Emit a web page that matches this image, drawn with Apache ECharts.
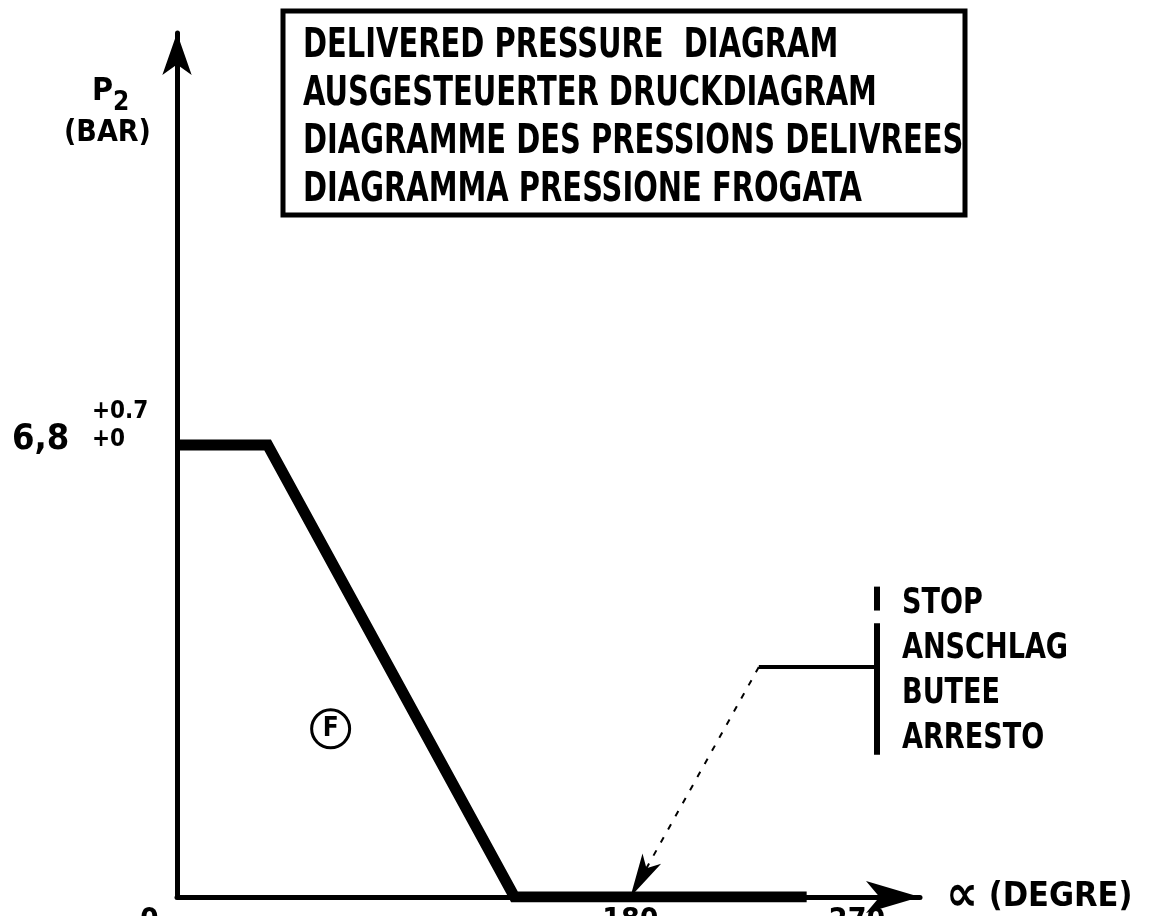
<!DOCTYPE html>
<html>
<head>
<meta charset="utf-8">
<title>Delivered pressure diagram</title>
<script src="https://cdn.jsdelivr.net/npm/echarts@6.0.0/dist/echarts.min.js"></script>
<style>
  html, body { margin: 0; padding: 0; background: #fff; }
  #chart { width: 1159px; height: 916px; }
</style>
</head>
<body>
<div id="chart"></div>
<script>
// pressure curve, angle in degrees / P2 in bar
const angleDeg = [0, 36, 134, 250]
const pressureBar = [6.8, 6.8, 0, 0]

// tick labels
const xTickValues = [0, 180, 270]
const yTickValues = [6.8]

// stop leader: arrow tip on the axis, knee, end at the bracket
const stopTip = [180, 0]
const stopKnee = [231, 3.46]
const stopEnd = [278, 3.46]
const stopBracket = [[278, 4.67], [278, 4.31], [278, 4.12], [278, 2.14]]
const stopLabels = ['STOP', 'ANSCHLAG', 'BUTEE', 'ARRESTO']

// circled F marker
const fMarker = [61, 2.53]

const titleLines = [
  'DELIVERED PRESSURE  DIAGRAM',
  'AUSGESTEUERTER DRUCKDIAGRAM',
  'DIAGRAMME DES PRESSIONS DELIVREES',
  'DIAGRAMMA PRESSIONE FROGATA'
]

const FONT = "'Liberation Sans Narrow', 'DejaVu Sans Condensed', 'Liberation Sans', sans-serif"
const INK = '#000'

const chart = echarts.init(document.getElementById('chart'))

const option = {
  backgroundColor: '#fff',
  animation: false,
  grid: { left: 177, right: 239, top: 33, bottom: 19, outerBoundsMode: 'none', containLabel: false },
  xAxis: {
    type: 'value',
    min: 0,
    max: 295,
    name: '{a|∝}{d| (DEGRE)}',
    nameLocation: 'end',
    nameGap: 26,
    nameTextStyle: {
      verticalAlign: 'middle',
      rich: {
        a: { fontFamily: FONT, fontWeight: 'bold', fontSize: 50, color: INK },
        d: { fontFamily: FONT, fontWeight: 'bold', fontSize: 34, color: INK }
      }
    },
    axisLine: {
      show: true,
      onZero: false,
      symbol: ['none', 'arrow'],
      symbolSize: [24, 54],
      lineStyle: { color: INK, width: 5 }
    },
    axisTick: { show: false },
    splitLine: { show: false },
    axisLabel: {
      customValues: xTickValues,
      margin: 9,
      color: INK,
      formatter: v => v === 0 ? '{z|0}' : '{n|' + v + '}',
      rich: {
        z: { fontFamily: FONT, fontWeight: 'bold', fontSize: 30, color: INK, padding: [0, 55, 0, 0] },
        n: { fontFamily: FONT, fontWeight: 'bold', fontSize: 30, color: INK }
      }
    }
  },
  yAxis: {
    type: 'value',
    min: 0,
    max: 13,
    axisLine: {
      show: true,
      onZero: false,
      symbol: ['none', 'arrow'],
      symbolSize: [22, 42],
      lineStyle: { color: INK, width: 5 }
    },
    axisTick: { show: false },
    splitLine: { show: false },
    axisLabel: {
      customValues: yTickValues,
      align: 'left',
      margin: 165,
      padding: [0, 0, 30, 0],
      formatter: v => '{e|}{t|+0.7}\n{v|' + String(v).replace('.', ',') + '}{t|+0}',
      rich: {
        e: { width: 80, lineHeight: 20 },
        v: { width: 80, fontFamily: FONT, fontWeight: 'bold', fontSize: 36, color: INK, lineHeight: 36 },
        t: { fontFamily: FONT, fontWeight: 'bold', fontSize: 24, color: INK, lineHeight: 20 }
      }
    }
  },
  series: [
    {
      name: 'P2',
      type: 'line',
      data: angleDeg.map((a, i) => [a, pressureBar[i]]),
      symbol: 'none',
      lineStyle: { color: INK, width: 11, join: 'miter' },
      z: 5,
      markPoint: {
        symbol: 'circle',
        symbolSize: 38,
        itemStyle: { color: 'transparent', borderColor: INK, borderWidth: 3 },
        label: { show: true, formatter: 'F', fontFamily: FONT, fontWeight: 'bold', fontSize: 26, color: INK },
        data: [{ coord: fMarker }]
      }
    },
    {
      name: 'stop',
      type: 'line',
      data: [stopKnee, stopEnd],
      symbol: 'none',
      lineStyle: { color: INK, width: 4 },
      markLine: {
        silent: true,
        label: { show: false },
        data: [
          [
            { coord: stopKnee, symbol: 'none', lineStyle: { type: [6, 9], width: 2, color: INK } },
            { coord: stopTip, symbol: 'arrow', symbolSize: [16, 44] }
          ],
          [
            { coord: stopBracket[0], symbol: 'none', lineStyle: { type: 'solid', width: 6, color: INK } },
            { coord: stopBracket[1], symbol: 'none' }
          ],
          [
            { coord: stopBracket[2], symbol: 'none', lineStyle: { type: 'solid', width: 6, color: INK } },
            { coord: stopBracket[3], symbol: 'none' }
          ]
        ]
      }
    }
  ],
  graphic: [
    {
      type: 'rect',
      shape: { x: 283, y: 11, width: 682, height: 204 },
      style: { fill: 'none', stroke: INK, lineWidth: 5 }
    },
    ...titleLines.map((t, i) => ({
      type: 'text',
      x: 303,
      y: 47 + i * 48,
      scaleX: 0.87,
      scaleY: 1.08,
      style: { text: t, fontFamily: FONT, fontWeight: 'bold', fontSize: 37, fill: INK, verticalAlign: 'middle' }
    })),
    ...stopLabels.map((t, i) => ({
      type: 'text',
      x: 902,
      y: 604 + i * 45,
      scaleX: 0.86,
      style: { text: t, fontFamily: FONT, fontWeight: 'bold', fontSize: 35, fill: INK, verticalAlign: 'middle' }
    })),
    {
      type: 'text',
      x: 64,
      y: 68,
      style: {
        text: '{p|P}{s|2}\n{b|(BAR)}',
        rich: {
          p: { fontFamily: FONT, fontWeight: 'bold', fontSize: 32, fill: INK, lineHeight: 48, padding: [0, 0, 0, 28] },
          s: { fontFamily: FONT, fontWeight: 'bold', fontSize: 26, fill: INK, lineHeight: 48, verticalAlign: 'bottom' },
          b: { fontFamily: FONT, fontWeight: 'bold', fontSize: 30, fill: INK, lineHeight: 34 }
        }
      }
    }
  ]
}

chart.setOption(option)
window.addEventListener('resize', () => chart.resize())
</script>
</body>
</html>
